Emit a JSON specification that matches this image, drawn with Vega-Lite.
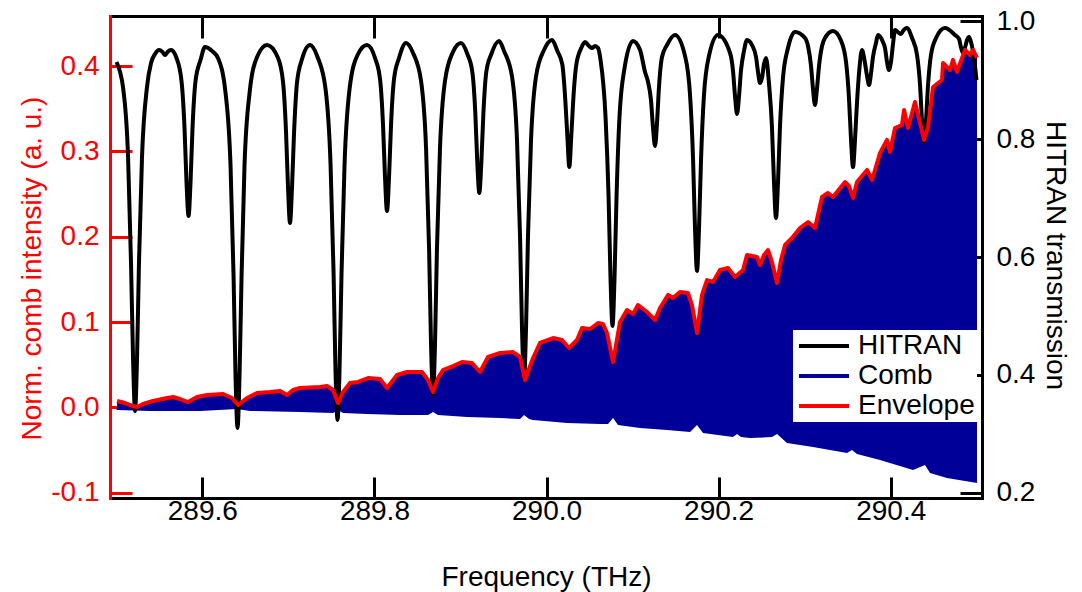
{
  "$schema": "https://vega.github.io/schema/vega-lite/v6.json",
  "width": 872,
  "height": 482,
  "autosize": {"type": "none"},
  "padding": {"left": 110, "top": 16, "right": 100, "bottom": 94},
  "background": "white",
  "config": {
    "view": {"stroke": null},
    "axis": {
      "grid": false,
      "labelFont": "Liberation Sans",
      "titleFont": "Liberation Sans",
      "labelFontSize": 28,
      "titleFontSize": 28,
      "titleFontWeight": "normal",
      "tickWidth": 3,
      "domainWidth": 3,
      "domainColor": "#000000",
      "tickColor": "#000000",
      "labelColor": "#000000",
      "titleColor": "#000000",
      "domainCap": "square",
      "labelOverlap": false,
      "labelFlush": false
    }
  },
  "datasets": {
    "hitran": [
      {"f":289.5003,"t":0.9305},{"f":289.5044,"t":0.9136},{"f":289.5078,"t":0.8881},{"f":289.5137,"t":0.7695},{"f":289.5171,"t":0.5915},{"f":289.5195,"t":0.4271},{"f":289.5218,"t":0.3390},{"f":289.5241,"t":0.4271},{"f":289.5264,"t":0.5915},{"f":289.5299,"t":0.7695},{"f":289.5357,"t":0.8881},{"f":289.5404,"t":0.9288},{"f":289.5450,"t":0.9441},{"f":289.5497,"t":0.9508},{"f":289.5537,"t":0.9475},{"f":289.5567,"t":0.9424},{"f":289.5596,"t":0.9475},{"f":289.5636,"t":0.9508},{"f":289.5700,"t":0.9373},{"f":289.5758,"t":0.8983},{"f":289.5793,"t":0.8186},{"f":289.5816,"t":0.7271},{"f":289.5840,"t":0.6695},{"f":289.5863,"t":0.7271},{"f":289.5886,"t":0.8186},{"f":289.5921,"t":0.8983},{"f":289.5979,"t":0.9339},{"f":289.6031,"t":0.9559},{"f":289.6113,"t":0.9492},{"f":289.6182,"t":0.9373},{"f":289.6270,"t":0.8780},{"f":289.6328,"t":0.7542},{"f":289.6363,"t":0.5678},{"f":289.6386,"t":0.3966},{"f":289.6409,"t":0.3102},{"f":289.6432,"t":0.3966},{"f":289.6456,"t":0.5678},{"f":289.6490,"t":0.7542},{"f":289.6549,"t":0.8780},{"f":289.6636,"t":0.9390},{"f":289.6752,"t":0.9593},{"f":289.6880,"t":0.9373},{"f":289.6938,"t":0.8966},{"f":289.6973,"t":0.8110},{"f":289.6996,"t":0.7169},{"f":289.7019,"t":0.6576},{"f":289.7042,"t":0.7169},{"f":289.7066,"t":0.8110},{"f":289.7101,"t":0.8966},{"f":289.7159,"t":0.9356},{"f":289.7252,"t":0.9593},{"f":289.7339,"t":0.9390},{"f":289.7432,"t":0.8847},{"f":289.7490,"t":0.7576},{"f":289.7525,"t":0.5746},{"f":289.7548,"t":0.4051},{"f":289.7571,"t":0.3237},{"f":289.7594,"t":0.4051},{"f":289.7618,"t":0.5746},{"f":289.7653,"t":0.7576},{"f":289.7711,"t":0.8847},{"f":289.7804,"t":0.9424},{"f":289.7914,"t":0.9593},{"f":289.8007,"t":0.9373},{"f":289.8065,"t":0.9017},{"f":289.8100,"t":0.8237},{"f":289.8123,"t":0.7356},{"f":289.8146,"t":0.6780},{"f":289.8170,"t":0.7356},{"f":289.8193,"t":0.8237},{"f":289.8228,"t":0.9017},{"f":289.8286,"t":0.9373},{"f":289.8367,"t":0.9627},{"f":289.8449,"t":0.9458},{"f":289.8542,"t":0.8983},{"f":289.8600,"t":0.7847},{"f":289.8635,"t":0.6153},{"f":289.8658,"t":0.4525},{"f":289.8681,"t":0.3661},{"f":289.8704,"t":0.4525},{"f":289.8727,"t":0.6153},{"f":289.8762,"t":0.7847},{"f":289.8820,"t":0.8983},{"f":289.8913,"t":0.9475},{"f":289.9006,"t":0.9627},{"f":289.9080,"t":0.9441},{"f":289.9138,"t":0.9136},{"f":289.9173,"t":0.8424},{"f":289.9196,"t":0.7585},{"f":289.9219,"t":0.7085},{"f":289.9242,"t":0.7585},{"f":289.9266,"t":0.8424},{"f":289.9300,"t":0.9136},{"f":289.9359,"t":0.9441},{"f":289.9448,"t":0.9661},{"f":289.9506,"t":0.9492},{"f":289.9599,"t":0.9059},{"f":289.9657,"t":0.7983},{"f":289.9692,"t":0.6373},{"f":289.9715,"t":0.4797},{"f":289.9739,"t":0.3932},{"f":289.9762,"t":0.4797},{"f":289.9785,"t":0.6373},{"f":289.9820,"t":0.7983},{"f":289.9878,"t":0.9059},{"f":289.9971,"t":0.9508},{"f":290.0064,"t":0.9678},{"f":290.0126,"t":0.9492},{"f":290.0184,"t":0.9259},{"f":290.0218,"t":0.8669},{"f":290.0242,"t":0.8051},{"f":290.0265,"t":0.7525},{"f":290.0288,"t":0.8051},{"f":290.0311,"t":0.8669},{"f":290.0346,"t":0.9259},{"f":290.0404,"t":0.9542},{"f":290.0447,"t":0.9644},{"f":290.0494,"t":0.9576},{"f":290.0529,"t":0.9542},{"f":290.0564,"t":0.9576},{"f":290.0599,"t":0.9542},{"f":290.0628,"t":0.9339},{"f":290.0686,"t":0.8373},{"f":290.0721,"t":0.7034},{"f":290.0744,"t":0.5627},{"f":290.0767,"t":0.4831},{"f":290.0790,"t":0.5627},{"f":290.0814,"t":0.7034},{"f":290.0848,"t":0.8373},{"f":290.0907,"t":0.9203},{"f":290.1005,"t":0.9661},{"f":290.1087,"t":0.9508},{"f":290.1145,"t":0.9136},{"f":290.1180,"t":0.8966},{"f":290.1214,"t":0.8661},{"f":290.1238,"t":0.8186},{"f":290.1261,"t":0.7881},{"f":290.1284,"t":0.8271},{"f":290.1307,"t":0.8881},{"f":290.1342,"t":0.9390},{"f":290.1400,"t":0.9593},{"f":290.1493,"t":0.9763},{"f":290.1610,"t":0.9407},{"f":290.1668,"t":0.8746},{"f":290.1703,"t":0.7661},{"f":290.1726,"t":0.6475},{"f":290.1749,"t":0.5763},{"f":290.1772,"t":0.6475},{"f":290.1796,"t":0.7661},{"f":290.1830,"t":0.8746},{"f":290.1888,"t":0.9407},{"f":290.1993,"t":0.9763},{"f":290.2133,"t":0.9458},{"f":290.2167,"t":0.9161},{"f":290.2191,"t":0.8720},{"f":290.2214,"t":0.8424},{"f":290.2237,"t":0.8720},{"f":290.2260,"t":0.9161},{"f":290.2295,"t":0.9492},{"f":290.2330,"t":0.9678},{"f":290.2388,"t":0.9593},{"f":290.2435,"t":0.9390},{"f":290.2458,"t":0.9136},{"f":290.2481,"t":0.8949},{"f":290.2504,"t":0.9034},{"f":290.2528,"t":0.9271},{"f":290.2551,"t":0.9373},{"f":290.2586,"t":0.8932},{"f":290.2620,"t":0.8203},{"f":290.2644,"t":0.7254},{"f":290.2667,"t":0.6661},{"f":290.2690,"t":0.7254},{"f":290.2713,"t":0.8203},{"f":290.2748,"t":0.9034},{"f":290.2806,"t":0.9542},{"f":290.2888,"t":0.9814},{"f":290.3004,"t":0.9712},{"f":290.3039,"t":0.9576},{"f":290.3074,"t":0.9237},{"f":290.3097,"t":0.8847},{"f":290.3120,"t":0.8576},{"f":290.3143,"t":0.8847},{"f":290.3167,"t":0.9237},{"f":290.3202,"t":0.9576},{"f":290.3236,"t":0.9712},{"f":290.3329,"t":0.9831},{"f":290.3422,"t":0.9669},{"f":290.3481,"t":0.9305},{"f":290.3515,"t":0.8695},{"f":290.3539,"t":0.7983},{"f":290.3562,"t":0.7525},{"f":290.3585,"t":0.7983},{"f":290.3608,"t":0.8610},{"f":290.3637,"t":0.9203},{"f":290.3666,"t":0.9508},{"f":290.3695,"t":0.9339},{"f":290.3725,"t":0.9068},{"f":290.3748,"t":0.8915},{"f":290.3771,"t":0.9110},{"f":290.3794,"t":0.9390},{"f":290.3829,"t":0.9627},{"f":290.3852,"t":0.9763},{"f":290.3910,"t":0.9644},{"f":290.3934,"t":0.9542},{"f":290.3957,"t":0.9305},{"f":290.3980,"t":0.9169},{"f":290.4003,"t":0.9305},{"f":290.4027,"t":0.9610},{"f":290.4050,"t":0.9847},{"f":290.4096,"t":0.9797},{"f":290.4120,"t":0.9780},{"f":290.4143,"t":0.9831},{"f":290.4189,"t":0.9881},{"f":290.4248,"t":0.9712},{"f":290.4306,"t":0.9424},{"f":290.4341,"t":0.8915},{"f":290.4364,"t":0.8305},{"f":290.4387,"t":0.7949},{"f":290.4410,"t":0.8305},{"f":290.4434,"t":0.8915},{"f":290.4468,"t":0.9424},{"f":290.4527,"t":0.9712},{"f":290.4631,"t":0.9881},{"f":290.4747,"t":0.9763},{"f":290.4794,"t":0.9695},{"f":290.4817,"t":0.9551},{"f":290.4840,"t":0.9458},{"f":290.4864,"t":0.9551},{"f":290.4887,"t":0.9678},{"f":290.4910,"t":0.9729},{"f":290.4933,"t":0.9644},{"f":290.4968,"t":0.9373},{"f":290.4997,"t":0.9000}
    ],
    "env": [
      {"f":289.5009,"v":0.0074},{"f":289.5102,"v":0.0050},{"f":289.5195,"v":0.0015},{"f":289.5241,"v":0.0004},{"f":289.5311,"v":0.0039},{"f":289.5427,"v":0.0074},{"f":289.5590,"v":0.0109},{"f":289.5660,"v":0.0121},{"f":289.5741,"v":0.0097},{"f":289.5834,"v":0.0062},{"f":289.5938,"v":0.0121},{"f":289.6055,"v":0.0144},{"f":289.6241,"v":0.0156},{"f":289.6345,"v":0.0109},{"f":289.6415,"v":0.0027},{"f":289.6519,"v":0.0109},{"f":289.6636,"v":0.0168},{"f":289.6787,"v":0.0179},{"f":289.6903,"v":0.0191},{"f":289.6984,"v":0.0144},{"f":289.7054,"v":0.0203},{"f":289.7135,"v":0.0226},{"f":289.7368,"v":0.0238},{"f":289.7449,"v":0.0250},{"f":289.7519,"v":0.0203},{"f":289.7577,"v":0.0050},{"f":289.7635,"v":0.0179},{"f":289.7716,"v":0.0285},{"f":289.7809,"v":0.0297},{"f":289.7926,"v":0.0343},{"f":289.8065,"v":0.0332},{"f":289.8146,"v":0.0226},{"f":289.8263,"v":0.0379},{"f":289.8379,"v":0.0414},{"f":289.8553,"v":0.0414},{"f":289.8623,"v":0.0320},{"f":289.8681,"v":0.0179},{"f":289.8739,"v":0.0343},{"f":289.8797,"v":0.0437},{"f":289.8913,"v":0.0484},{"f":289.9018,"v":0.0531},{"f":289.9134,"v":0.0519},{"f":289.9227,"v":0.0414},{"f":289.9320,"v":0.0590},{"f":289.9460,"v":0.0637},{"f":289.9611,"v":0.0648},{"f":289.9692,"v":0.0590},{"f":289.9750,"v":0.0320},{"f":289.9843,"v":0.0578},{"f":289.9924,"v":0.0754},{"f":290.0076,"v":0.0812},{"f":290.0180,"v":0.0789},{"f":290.0261,"v":0.0695},{"f":290.0354,"v":0.0789},{"f":290.0413,"v":0.0930},{"f":290.0506,"v":0.0918},{"f":290.0599,"v":0.0988},{"f":290.0657,"v":0.0977},{"f":290.0703,"v":0.0871},{"f":290.0773,"v":0.0531},{"f":290.0854,"v":0.1000},{"f":290.0935,"v":0.1141},{"f":290.1005,"v":0.1094},{"f":290.1063,"v":0.1199},{"f":290.1168,"v":0.1117},{"f":290.1261,"v":0.1023},{"f":290.1319,"v":0.1164},{"f":290.1412,"v":0.1317},{"f":290.1470,"v":0.1281},{"f":290.1551,"v":0.1352},{"f":290.1644,"v":0.1340},{"f":290.1691,"v":0.1199},{"f":290.1749,"v":0.0871},{"f":290.1807,"v":0.1317},{"f":290.1865,"v":0.1492},{"f":290.1935,"v":0.1469},{"f":290.2016,"v":0.1610},{"f":290.2109,"v":0.1633},{"f":290.2191,"v":0.1528},{"f":290.2284,"v":0.1610},{"f":290.2330,"v":0.1785},{"f":290.2446,"v":0.1762},{"f":290.2481,"v":0.1668},{"f":290.2528,"v":0.1785},{"f":290.2574,"v":0.1844},{"f":290.2620,"v":0.1703},{"f":290.2679,"v":0.1457},{"f":290.2725,"v":0.1727},{"f":290.2772,"v":0.1903},{"f":290.2853,"v":0.1985},{"f":290.2946,"v":0.2102},{"f":290.3039,"v":0.2172},{"f":290.3120,"v":0.2102},{"f":290.3202,"v":0.2465},{"f":290.3271,"v":0.2512},{"f":290.3329,"v":0.2465},{"f":290.3469,"v":0.2641},{"f":290.3515,"v":0.2594},{"f":290.3562,"v":0.2454},{"f":290.3608,"v":0.2641},{"f":290.3725,"v":0.2782},{"f":290.3783,"v":0.2665},{"f":290.3876,"v":0.2981},{"f":290.3957,"v":0.3134},{"f":290.3992,"v":0.2993},{"f":290.4050,"v":0.3274},{"f":290.4131,"v":0.3309},{"f":290.4155,"v":0.3485},{"f":290.4201,"v":0.3274},{"f":290.4282,"v":0.3579},{"f":290.4341,"v":0.3333},{"f":290.4387,"v":0.3134},{"f":290.4434,"v":0.3286},{"f":290.4492,"v":0.3755},{"f":290.4596,"v":0.3837},{"f":290.4608,"v":0.4036},{"f":290.4689,"v":0.3954},{"f":290.4724,"v":0.4071},{"f":290.4770,"v":0.3931},{"f":290.4829,"v":0.4095},{"f":290.4864,"v":0.4189},{"f":290.4922,"v":0.4130},{"f":290.4957,"v":0.4189},{"f":290.5003,"v":0.4095}
    ],
    "low": [
      {"f":289.5003,"v":-0.0032},{"f":289.5392,"v":-0.0043},{"f":289.5973,"v":-0.0043},{"f":289.6403,"v":-0.0020},{"f":289.6554,"v":-0.0043},{"f":289.7135,"v":-0.0055},{"f":289.7519,"v":-0.0067},{"f":289.7577,"v":-0.0032},{"f":289.7635,"v":-0.0067},{"f":289.7914,"v":-0.0079},{"f":289.8298,"v":-0.0090},{"f":289.8623,"v":-0.0090},{"f":289.8681,"v":-0.0055},{"f":289.8739,"v":-0.0090},{"f":289.9076,"v":-0.0114},{"f":289.9460,"v":-0.0125},{"f":289.9692,"v":-0.0137},{"f":289.9739,"v":-0.0090},{"f":289.9797,"v":-0.0137},{"f":289.9843,"v":-0.0149},{"f":290.0238,"v":-0.0184},{"f":290.0622,"v":-0.0196},{"f":290.0715,"v":-0.0196},{"f":290.0773,"v":-0.0125},{"f":290.0831,"v":-0.0207},{"f":290.1087,"v":-0.0243},{"f":290.1400,"v":-0.0266},{"f":290.1668,"v":-0.0290},{"f":290.1749,"v":-0.0207},{"f":290.1819,"v":-0.0301},{"f":290.2167,"v":-0.0348},{"f":290.2214,"v":-0.0313},{"f":290.2260,"v":-0.0348},{"f":290.2365,"v":-0.0360},{"f":290.2620,"v":-0.0348},{"f":290.2679,"v":-0.0313},{"f":290.2795,"v":-0.0419},{"f":290.2946,"v":-0.0442},{"f":290.3097,"v":-0.0465},{"f":290.3492,"v":-0.0536},{"f":290.3550,"v":-0.0501},{"f":290.3608,"v":-0.0547},{"f":290.3876,"v":-0.0618},{"f":290.4259,"v":-0.0735},{"f":290.4399,"v":-0.0676},{"f":290.4457,"v":-0.0770},{"f":290.4654,"v":-0.0829},{"f":290.4864,"v":-0.0864},{"f":290.5003,"v":-0.0887}
    ]
  },
  "layer": [
    {
      "data": {"name": "low"},
      "mark": {"type": "area", "interpolate": "linear"},
      "encoding": {
        "x": {"field": "f", "type": "quantitative",
          "scale": {"domain": [289.4927, 290.5061], "nice": false, "zero": false},
          "axis": {"orient": "bottom", "values": [289.6, 289.8, 290.0, 290.2, 290.4], "format": ".1f",
            "title": "Frequency (THz)", "tickSize": -21, "labelPadding": 20,
            "titleX": 436, "titleY": 87, "titleBaseline": "alphabetic", "titleAlign": "center"}},
        "y": {"field": "v", "type": "quantitative",
          "scale": {"domain": [-0.1063, 0.4587], "nice": false, "zero": false},
          "axis": {"orient": "left", "values": [-0.1, 0, 0.1, 0.2, 0.3, 0.4],
            "labelExpr": "datum.value < 0 ? '-' + format(-datum.value, '.1f') : format(datum.value, '.1f')",
            "title": "Norm. comb intensity (a. u.)", "tickSize": -22, "labelPadding": 33,
            "domainColor": "#ff0000", "tickColor": "#ff0000", "labelColor": "#ff0000", "titleColor": "#ff0000",
            "titleX": -70, "titleY": 252, "titleAngle": 270, "titleBaseline": "alphabetic", "titleAlign": "center"}},
        "y2": {"datum": 0},
        "color": {"datum": "Comb", "type": "nominal",
          "scale": {"domain": ["HITRAN", "Comb", "Envelope"], "range": ["#000000", "#000099", "#ff0000"]},
          "legend": {"orient": "none", "legendX": 683, "legendY": 314, "title": null,
            "fillColor": "white", "padding": 2, "labelFontSize": 28, "labelFont": "Liberation Sans", "labelColor": "#000000",
            "symbolType": "M-2.5,0H2.5", "symbolSize": 400, "symbolStrokeWidth": 4, "symbolOffset": 15,
            "labelOffset": 20, "rowPadding": 2,
            "encode": {"symbols": {"update": {"stroke": {"signal": "scale('color', datum.value)"}, "fill": {"value": "transparent"}, "strokeWidth": {"value": 4}}}}}}
      }
    },
    {
      "data": {"name": "env"},
      "mark": {"type": "area", "interpolate": "linear"},
      "encoding": {
        "x": {"field": "f", "type": "quantitative", "scale": {"domain": [289.4927, 290.5061], "nice": false, "zero": false}, "axis": null},
        "y": {"field": "v", "type": "quantitative", "scale": {"domain": [-0.1063, 0.4587], "nice": false, "zero": false}, "axis": null},
        "y2": {"datum": -0.002},
        "color": {"datum": "Comb", "type": "nominal"}
      }
    },
    {
      "data": {"name": "hitran"},
      "mark": {"type": "line", "interpolate": "monotone", "strokeWidth": 4, "strokeJoin": "round"},
      "encoding": {
        "x": {"field": "f", "type": "quantitative",
          "scale": {"domain": [289.4927, 290.5061], "nice": false, "zero": false},
          "axis": {"orient": "top", "values": [289.6, 289.8, 290.0, 290.2, 290.4], "labels": false, "title": null, "tickSize": -22}},
        "y": {"field": "t", "type": "quantitative",
          "scale": {"domain": [0.1915, 1.0085], "nice": false, "zero": false},
          "axis": {"orient": "right", "values": [0.2, 0.4, 0.6, 0.8, 1.0], "format": ".1f",
            "title": "HITRAN transmission", "tickSize": -22, "labelPadding": 36,
            "titleX": 64, "titleY": 239, "titleAngle": 90, "titleBaseline": "alphabetic", "titleAlign": "center"}},
        "color": {"datum": "HITRAN", "type": "nominal"}
      }
    },
    {
      "data": {"name": "env"},
      "mark": {"type": "line", "interpolate": "linear", "strokeWidth": 4, "strokeJoin": "round"},
      "encoding": {
        "x": {"field": "f", "type": "quantitative", "scale": {"domain": [289.4927, 290.5061], "nice": false, "zero": false}, "axis": null},
        "y": {"field": "v", "type": "quantitative", "scale": {"domain": [-0.1063, 0.4587], "nice": false, "zero": false}, "axis": null},
        "color": {"datum": "Envelope", "type": "nominal"}
      }
    }
  ],
  "resolve": {"scale": {"y": "independent"}, "axis": {"x": "independent", "y": "independent"}}
}
